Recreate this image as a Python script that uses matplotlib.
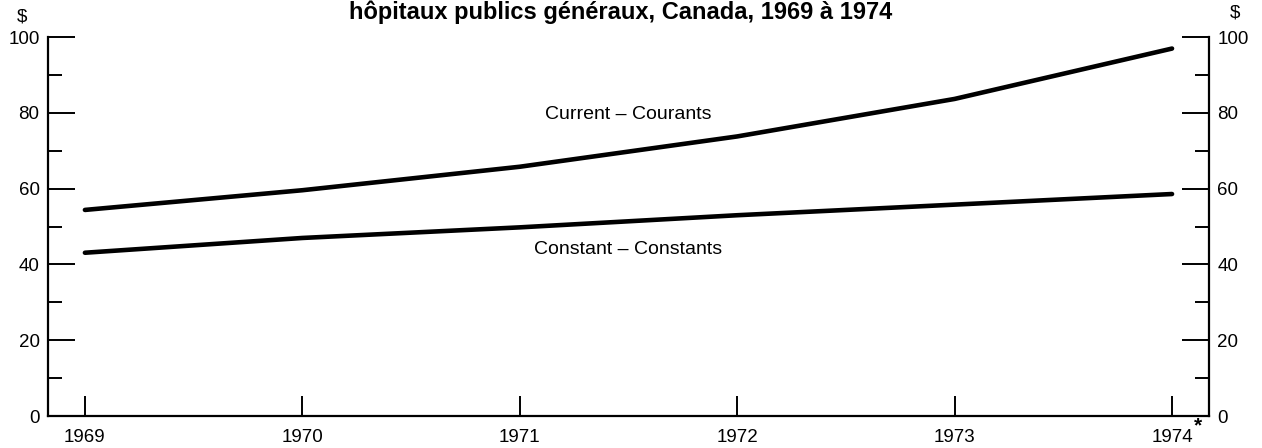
import matplotlib
matplotlib.use('Agg')
import matplotlib.pyplot as plt
from matplotlib.ticker import MultipleLocator

# Données
annees = [1969, 1970, 1971, 1972, 1973, 1974]
courants = [54.4, 59.6, 65.8, 73.8, 83.7, 97.0]
constants = [43.1, 47.0, 49.8, 53.0, 55.8, 58.6]
etiquettes_x = ['1969', '1970', '1971', '1972', '1973', '1974']

plt.rcParams['font.family'] = ['Liberation Sans', 'DejaVu Sans']

W, H = 1262, 448
fig = plt.figure(figsize=(W / 100, H / 100), dpi=100)
ax = fig.add_axes([0.038, 0.0714, 0.920, 0.8456])

ax.plot(annees, courants, color='black', lw=3.3, solid_capstyle='round')
ax.plot(annees, constants, color='black', lw=3.3, solid_capstyle='round')

ax.set_xlim(1968.83, 1974.17)
ax.set_ylim(0, 100)

# axes et graduations
ax.spines['top'].set_visible(False)
for s in ('left', 'right', 'bottom'):
    ax.spines[s].set_linewidth(1.6)

ax.set_xticks(annees)
ax.set_xticklabels(etiquettes_x, fontsize=13.5)
ax.yaxis.set_major_locator(MultipleLocator(20))
ax.yaxis.set_minor_locator(MultipleLocator(10))
ax.tick_params(axis='y', which='major', direction='in', length=19.5, width=1.4,
               left=True, right=True, labelleft=True, labelright=True,
               labelsize=13.5, pad=6)
ax.tick_params(axis='y', which='minor', direction='in', length=10, width=1.4,
               left=True, right=True)
ax.tick_params(axis='x', which='major', direction='in', length=14.5, width=1.4,
               labelsize=13.5, pad=9)

# étiquettes des courbes
ax.text(1971.5, 79.6, 'Current \u2013 Courants', ha='center', va='center', fontsize=14)
ax.text(1971.5, 44.0, 'Constant \u2013 Constants', ha='center', va='center', fontsize=14)

# astérisque sur 1974
fig.text(1198 / W, 1 - 426 / H, '*', ha='center', va='center', fontsize=15,
         fontweight='bold')

# signes $
fig.text(22 / W, 1 - 17 / H, '$', ha='center', va='center', fontsize=13.5)
fig.text(1235 / W, 1 - 13 / H, '$', ha='center', va='center', fontsize=13.5)

# titre (partie visible)
fig.text(621 / W, 1 - 1 / H, 'hôpitaux publics généraux, Canada, 1969 à 1974',
         ha='center', va='top', fontsize=17, fontweight='bold')

fig.savefig('out.png', dpi=100)
